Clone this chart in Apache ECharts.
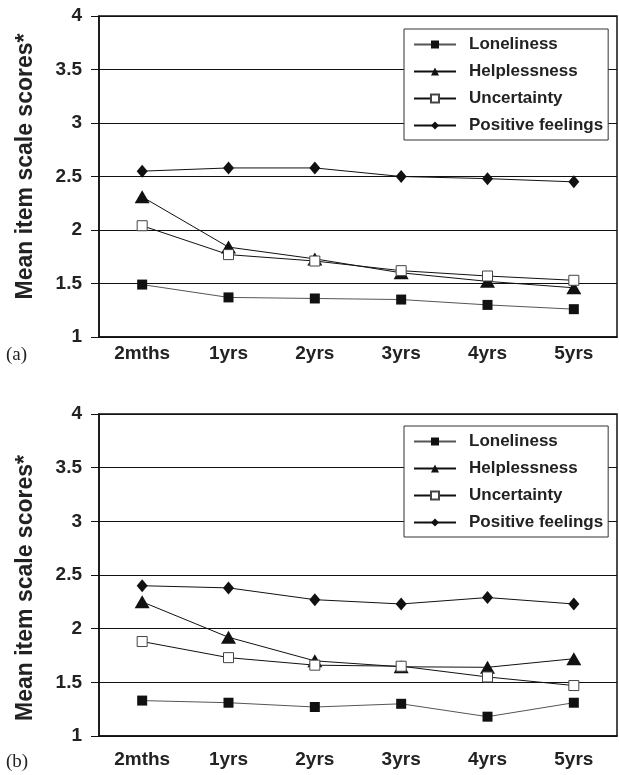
<!DOCTYPE html>
<html>
<head>
<meta charset="utf-8">
<script src="https://cdn.jsdelivr.net/npm/echarts@6/dist/echarts.min.js"></script>
<style>
  html, body { margin: 0; padding: 0; background: #fff; }
  #chart { width: 619px; height: 775px; }
</style>
</head>
<body>
<div id="chart"></div>
<script>
const categories = ["2mths", "1yrs", "2yrs", "3yrs", "4yrs", "5yrs"];
const seriesNames = ["Loneliness", "Helplessness", "Uncertainty", "Positive feelings"];
const yTicks = [1, 1.5, 2, 2.5, 3, 3.5, 4];

// panel (a)
const lonelinessA = [1.49, 1.37, 1.36, 1.35, 1.30, 1.26];
const helplessnessA = [2.31, 1.84, 1.73, 1.60, 1.52, 1.46];
const uncertaintyA = [2.04, 1.77, 1.71, 1.62, 1.57, 1.53];
const positiveA = [2.55, 2.58, 2.58, 2.50, 2.48, 2.45];

// panel (b)
const lonelinessB = [1.33, 1.31, 1.27, 1.30, 1.18, 1.31];
const helplessnessB = [2.25, 1.92, 1.70, 1.645, 1.64, 1.72];
const uncertaintyB = [1.88, 1.73, 1.66, 1.65, 1.55, 1.47];
const positiveB = [2.40, 2.38, 2.27, 2.23, 2.29, 2.23];

const font = "Liberation Sans";

const estilos = [
    { symbol: "rect", size: 10, item: { color: "#111" }, line: "#555" },
    { symbol: "triangle", size: [15, 13], item: { color: "#111" }, line: "#111" },
    { symbol: "rect", size: 10, item: { color: "#fff", borderColor: "#444", borderWidth: 1 }, line: "#111" },
    { symbol: "diamond", size: [11, 13], item: { color: "#111" }, line: "#111" }
];

function criarSerie(idx, dados, eixo) {
    const e = estilos[idx];
    return {
        name: seriesNames[idx],
        type: "line",
        xAxisIndex: eixo,
        yAxisIndex: eixo,
        data: dados,
        symbol: e.symbol,
        symbolSize: e.size,
        showAllSymbol: true,
        lineStyle: { color: e.line, width: 1 },
        itemStyle: e.item,
        emphasis: { disabled: true },
        animation: false,
        z: idx === 2 ? 4 : 3
    };
}

function eixoX(idx, margem) {
    return {
        type: "category",
        gridIndex: idx,
        data: categories,
        boundaryGap: true,
        axisLine: { show: true, lineStyle: { color: "#111", width: 1.5 } },
        axisTick: { show: false },
        axisLabel: { color: "#222", fontSize: 19, fontWeight: "bold", fontFamily: font, margin: margem },
        splitLine: { show: false }
    };
}

function eixoY(idx, padName) {
    return {
        type: "value",
        gridIndex: idx,
        min: 1,
        max: 4,
        interval: 0.5,
        name: "Mean item scale scores*",
        nameLocation: "middle",
        nameGap: 62,
        nameTextStyle: { color: "#222", fontSize: 23, fontWeight: "bold", fontFamily: font, padding: padName },
        axisLine: { show: true, lineStyle: { color: "#111", width: 1.5 } },
        axisTick: { show: true, length: 8, inside: false, lineStyle: { color: "#111" } },
        axisLabel: {
            color: "#222", fontSize: 19, fontWeight: "bold", fontFamily: font, margin: 17,
            formatter: v => yTicks.includes(v) ? String(v) : ""
        },
        splitLine: { show: true, lineStyle: { color: "#111", width: 1 } }
    };
}

function legenda(topo) {
    return {
        data: seriesNames,
        orient: "vertical",
        left: 404,
        top: topo,
        itemWidth: 42,
        itemHeight: 10,
        itemGap: 10,
        padding: [7, 5, 6, 9],
        borderColor: "#333",
        borderWidth: 1,
        backgroundColor: "#fff",
        selectedMode: false,
        textStyle: { color: "#222", fontSize: 17, fontWeight: "bold", fontFamily: font, padding: [0, 0, 0, 8] }
    };
}

const chart = echarts.init(document.getElementById("chart"), null, { renderer: "canvas" });

const option = {
    backgroundColor: "#fff",
    animation: false,
    grid: [
        { left: 99, top: 16, width: 518, height: 321, show: true, borderColor: "#111", borderWidth: 1.5, backgroundColor: "transparent" },
        { left: 99, top: 414, width: 518, height: 322, show: true, borderColor: "#111", borderWidth: 1.5, backgroundColor: "transparent" }
    ],
    xAxis: [eixoX(0, 7), eixoX(1, 14)],
    yAxis: [eixoY(0, [0, 0, 0, 20]), eixoY(1, [0, 26, 0, 0])],
    legend: [legenda(29), legenda(426)],
    series: [
        criarSerie(0, lonelinessA, 0),
        criarSerie(1, helplessnessA, 0),
        criarSerie(2, uncertaintyA, 0),
        criarSerie(3, positiveA, 0),
        criarSerie(0, lonelinessB, 1),
        criarSerie(1, helplessnessB, 1),
        criarSerie(2, uncertaintyB, 1),
        criarSerie(3, positiveB, 1)
    ],
    graphic: [
        { type: "text", left: 6, top: 346, style: { text: "(a)", fontFamily: "Liberation Serif", fontSize: 19, fill: "#222" } },
        { type: "text", left: 6, top: 753, style: { text: "(b)", fontFamily: "Liberation Serif", fontSize: 19, fill: "#222" } }
    ]
};

chart.setOption(option);
</script>
</body>
</html>
